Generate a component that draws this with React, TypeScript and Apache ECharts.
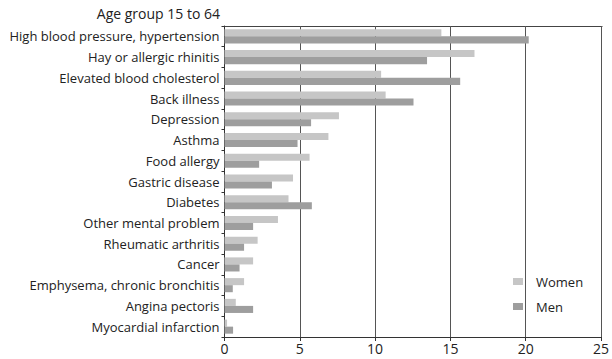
import React, { useEffect, useRef } from "react";
import * as echarts from "echarts";

const categories = [
  "High blood pressure, hypertension",
  "Hay or allergic rhinitis",
  "Elevated blood cholesterol",
  "Back illness",
  "Depression",
  "Asthma",
  "Food allergy",
  "Gastric disease",
  "Diabetes",
  "Other mental problem",
  "Rheumatic arthritis",
  "Cancer",
  "Emphysema, chronic bronchitis",
  "Angina pectoris",
  "Myocardial infarction",
];
const women = [14.4, 16.6, 10.4, 10.7, 7.6, 6.9, 5.65, 4.55, 4.25, 3.55, 2.2, 1.9, 1.3, 0.75, 0.17];
const men = [20.2, 13.45, 15.65, 12.55, 5.75, 4.85, 2.3, 3.15, 5.8, 1.9, 1.3, 1.0, 0.55, 1.9, 0.57];
const xTicks = { min: 0, max: 25, interval: 5 };
const title = "Age group 15 to 64";

const FONT = "'Open Sans', sans-serif";

export default function App() {
  const ref = useRef<HTMLDivElement>(null);
  useEffect(() => {
    const chart = echarts.init(ref.current!, null, { renderer: "svg" });
    chart.setOption({
      animation: false,
      backgroundColor: "#ffffff",
      textStyle: { fontFamily: FONT },
      grid: { left: 224.5, right: 9.5, top: 26, bottom: 22, containLabel: false },
      graphic: [
        {
          type: "text",
          right: 392,
          top: 6,
          style: { text: title, font: `14px ${FONT}`, fill: "#222", textAlign: "right" },
        },
        {
          type: "line",
          shape: { x1: 224.5, y1: 26.5, x2: 602.5, y2: 26.5 },
          style: { stroke: "#444", lineWidth: 1 },
        },
      ],
      legend: {
        orient: "vertical",
        left: 508,
        top: 270,
        itemWidth: 10,
        itemHeight: 7,
        itemGap: 12,
        icon: "rect",
        textStyle: { fontFamily: FONT, fontSize: 13, color: "#222", padding: [0, 0, 0, 8] },
        data: ["Women", "Men"],
      },
      xAxis: {
        type: "value",
        min: xTicks.min,
        max: xTicks.max,
        interval: xTicks.interval,
        axisLine: { show: true, lineStyle: { color: "#333", width: 1 } },
        axisTick: { show: true, length: 4, lineStyle: { color: "#333" } },
        axisLabel: { fontFamily: FONT, fontSize: 14, color: "#222", margin: 4 },
        splitLine: { show: true, lineStyle: { color: "#555", width: 1 } },
      },
      yAxis: {
        type: "category",
        data: categories,
        inverse: true,
        axisLine: { show: true, lineStyle: { color: "#333", width: 1 } },
        axisTick: { show: true, length: 3, lineStyle: { color: "#333" } },
        axisLabel: { fontFamily: FONT, fontSize: 13, color: "#222", margin: 5 },
        splitLine: { show: false },
      },
      series: [
        {
          name: "Women",
          type: "bar",
          data: women,
          itemStyle: { color: "#c6c6c6" },
          barGap: "0%",
          barCategoryGap: "32%",
        },
        {
          name: "Men",
          type: "bar",
          data: men,
          itemStyle: { color: "#9e9e9e" },
          barGap: "0%",
          barCategoryGap: "32%",
        },
      ],
    });
    return () => chart.dispose();
  }, []);
  return <div ref={ref} style={{ width: 612, height: 359, position: "absolute", left: 0, top: 0 }} />;
}
